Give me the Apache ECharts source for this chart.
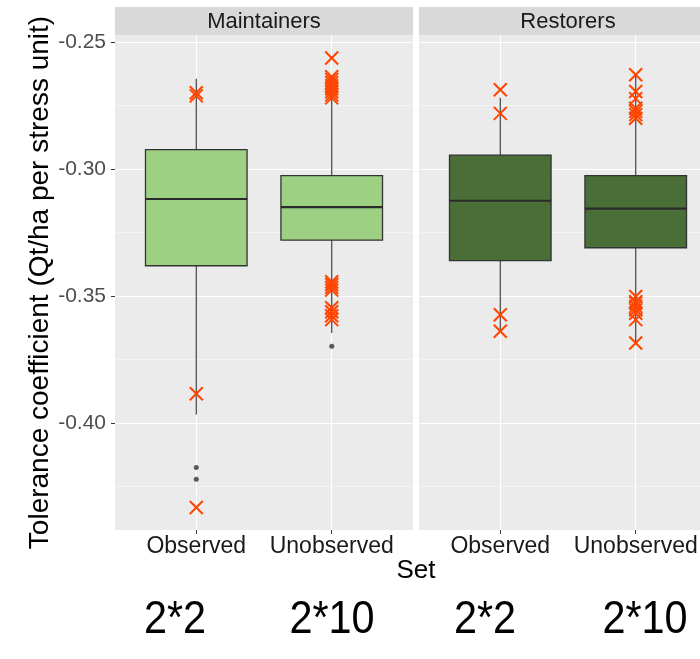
<!DOCTYPE html>
<html>
<head>
<meta charset="utf-8">
<script src="https://cdn.jsdelivr.net/npm/echarts@6/dist/echarts.min.js"></script>
<style>html,body{margin:0;padding:0;background:#fff}#c{width:700px;height:659px}</style>
</head>
<body>
<div id="c"></div>
<script>
// ---------------- data ----------------
const categories = ['Observed', 'Unobserved'];
const panels = ['Maintainers', 'Restorers'];
const boxColors = ['#9ED084', '#4A6E37'];
// [lower whisker, Q1, median, Q3, upper whisker]
const maintainersBoxes = [
  [-0.3967, -0.3381, -0.3118, -0.2924, -0.2645],
  [-0.3646, -0.3280, -0.3150, -0.3026, -0.2648]
];
const restorersBoxes = [
  [-0.3639, -0.3361, -0.3125, -0.2945, -0.2719],
  [-0.3685, -0.3310, -0.3156, -0.3026, -0.2629]
];
// boxplot outliers (black dots)
const maintainersDots = [[-0.4175, -0.4221], [-0.3698]];
const restorersDots = [[], []];
// highlighted points (orange crosses)
const maintainersCross = [
  [-0.2700, -0.2712, -0.3885, -0.4333],
  [-0.2563, -0.2637, -0.2648, -0.2660, -0.2672, -0.2684, -0.2696, -0.2708, -0.2720,
   -0.3444, -0.3455, -0.3466, -0.3477, -0.3546, -0.3562, -0.3578, -0.3593]
];
const restorersCross = [
  [-0.2688, -0.2781, -0.3574, -0.3639],
  [-0.2629, -0.2695, -0.2723, -0.2761, -0.2773, -0.2786, -0.2800,
   -0.3502, -0.3522, -0.3528, -0.3541, -0.3554, -0.3568, -0.3593, -0.3685]
];
const yTicks = [-0.40, -0.35, -0.30, -0.25];
const yMinor = [-0.425, -0.375, -0.325, -0.275];
const yRange = [-0.44213, -0.24724];
const xRange = [0.4, 2.6];
const bottomLabels = ['2*2', '2*10', '2*2', '2*10'];
const yTitle = 'Tolerance coefficient (Qt/ha per stress unit)';
const xTitle = 'Set';

// ---------------- layout ----------------
const FONT = 'Liberation Sans, Arial, sans-serif';
const gridTop = 35, gridH = 495, gridW = 298;
const gridLefts = [115, 419];
const stripTop = 7;

const boxesByPanel = [maintainersBoxes, restorersBoxes];
const dotsByPanel = [maintainersDots, restorersDots];
const crossByPanel = [maintainersCross, restorersCross];

const chart = echarts.init(document.getElementById('c'), null, {renderer: 'canvas'});

const grids = [], xAxes = [], yAxes = [], series = [], graphics = [];

panels.forEach((p, i) => {
  grids.push({left: gridLefts[i], top: gridTop, width: gridW, height: gridH,
    show: true, backgroundColor: '#EBEBEB', borderWidth: 0, outerBoundsMode: 'none'});
  xAxes.push({
    gridIndex: i, type: 'value', min: xRange[0], max: xRange[1],
    axisLine: {show: false},
    axisTick: {show: true, customValues: [1, 2], length: 4, lineStyle: {color: '#333', width: 1}},
    axisLabel: {show: true, customValues: [1, 2], margin: 5, color: '#1a1a1a', fontSize: 23,
      fontFamily: FONT, formatter: v => categories[Math.round(v) - 1] || ''},
    splitLine: {show: true, lineStyle: {color: '#ffffff', width: 1.1}}
  });
  // major y axis
  yAxes.push({
    gridIndex: i, type: 'value', min: yRange[0], max: yRange[1], position: 'left',
    axisLine: {show: false},
    axisTick: {show: i === 0, customValues: yTicks, length: 4, lineStyle: {color: '#333', width: 1}},
    axisLabel: {show: i === 0, customValues: yTicks, margin: 9, color: '#4D4D4D', fontSize: 21,
      fontFamily: FONT, formatter: v => v.toFixed(2)},
    splitLine: {show: true, lineStyle: {color: '#ffffff', width: 1.2}},
    name: i === 0 ? yTitle : '', nameLocation: 'middle', nameGap: 57,
    nameTextStyle: {color: '#000', fontSize: 28, fontFamily: FONT}
  });
  // minor y grid
  yAxes.push({
    gridIndex: i, type: 'value', min: yRange[0], max: yRange[1], position: 'left',
    axisLine: {show: false},
    axisTick: {show: false, customValues: yMinor},
    axisLabel: {show: false, customValues: yMinor},
    splitLine: {show: true, lineStyle: {color: '#F6F6F6', width: 0.7}}
  });

  // strip
  graphics.push({type: 'rect', shape: {x: gridLefts[i], y: stripTop, width: gridW, height: gridTop - stripTop},
    style: {fill: '#D9D9D9'}, z: 10});
  graphics.push({type: 'text', x: gridLefts[i] + gridW / 2, y: (stripTop + gridTop) / 2 + 1,
    style: {text: p, fill: '#1a1a1a', font: '22px ' + FONT, textAlign: 'center', textVerticalAlign: 'middle'}, z: 11});

  // boxes
  const boxData = boxesByPanel[i].map((b, k) => [k + 1].concat(b));
  series.push({
    type: 'custom', xAxisIndex: i, yAxisIndex: 2 * i, z: 3,
    data: boxData,
    renderItem: (params, api) => {
      const x = api.value(0);
      const lo = api.coord([x, api.value(1)]);
      const q1 = api.coord([x, api.value(2)]);
      const md = api.coord([x, api.value(3)]);
      const q3 = api.coord([x, api.value(4)]);
      const hi = api.coord([x, api.value(5)]);
      const hw = api.size([0.75, 0])[0] / 2;
      const ls = {stroke: '#333333', lineWidth: 1.1};
      return {type: 'group', children: [
        {type: 'line', shape: {x1: hi[0], y1: hi[1], x2: q3[0], y2: q3[1]}, style: ls},
        {type: 'line', shape: {x1: q1[0], y1: q1[1], x2: lo[0], y2: lo[1]}, style: ls},
        {type: 'rect', shape: {x: q3[0] - hw, y: q3[1], width: hw * 2, height: q1[1] - q3[1]},
          style: {fill: boxColors[i], stroke: '#333333', lineWidth: 1.3}},
        {type: 'line', shape: {x1: md[0] - hw, y1: md[1], x2: md[0] + hw, y2: md[1]},
          style: {stroke: '#2b2b2b', lineWidth: 2.2}}
      ]};
    }
  });

  // outlier dots
  const dotData = [];
  dotsByPanel[i].forEach((arr, k) => arr.forEach(v => dotData.push([k + 1, v])));
  series.push({
    type: 'scatter', xAxisIndex: i, yAxisIndex: 2 * i, z: 4,
    symbol: 'circle', symbolSize: 5, itemStyle: {color: '#333333'},
    data: dotData, silent: true
  });

  // crosses
  const crossData = [];
  crossByPanel[i].forEach((arr, k) => arr.forEach(v => crossData.push([k + 1, v])));
  series.push({
    type: 'custom', xAxisIndex: i, yAxisIndex: 2 * i, z: 5,
    data: crossData,
    renderItem: (params, api) => {
      const c = api.coord([api.value(0), api.value(1)]);
      const s = 6.5;
      const st = {stroke: '#FF4500', lineWidth: 2};
      return {type: 'group', children: [
        {type: 'line', shape: {x1: c[0] - s, y1: c[1] - s, x2: c[0] + s, y2: c[1] + s}, style: st},
        {type: 'line', shape: {x1: c[0] - s, y1: c[1] + s, x2: c[0] + s, y2: c[1] - s}, style: st}
      ]};
    }
  });
});

// x title
graphics.push({type: 'text', x: (gridLefts[0] + gridLefts[1] + gridW) / 2, y: 571,
  style: {text: xTitle, fill: '#000', font: '26px ' + FONT, textAlign: 'center', textVerticalAlign: 'middle'}});
// bottom annotations
const bottomX = [175, 332, 485, 645];
bottomLabels.forEach((t, k) => {
  graphics.push({type: 'text', x: bottomX[k], y: 620, scaleX: 0.9,
    style: {text: t, fill: '#000', font: '46px ' + FONT,
      textAlign: 'center', textVerticalAlign: 'middle'}});
});

chart.setOption({
  backgroundColor: '#ffffff',
  animation: false,
  grid: grids,
  xAxis: xAxes,
  yAxis: yAxes,
  series: series,
  graphic: graphics
});
</script>
</body>
</html>
